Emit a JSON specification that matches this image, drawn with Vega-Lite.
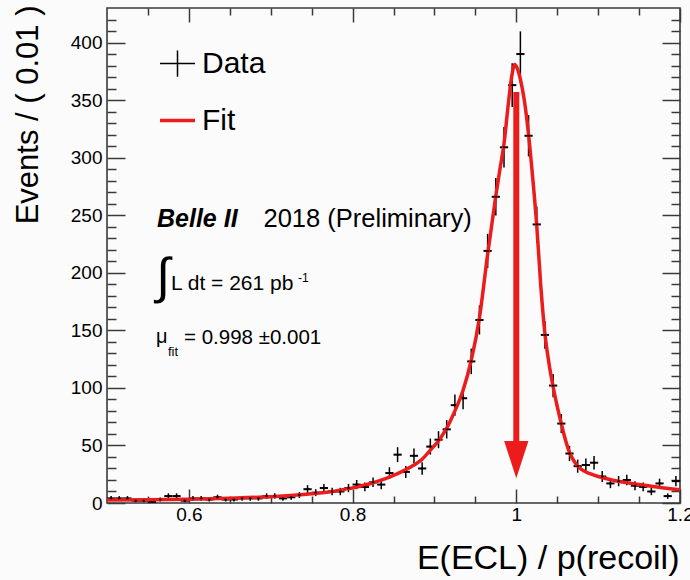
{
  "$schema": "https://vega.github.io/schema/vega-lite/v6.json",
  "width": 573,
  "height": 495,
  "autosize": {"type": "none"},
  "padding": {"left": 107, "top": 8, "right": 10, "bottom": 77},
  "background": "#fbfbfb",
  "datasets": {
    "points": [
      {"x": 0.505, "n": 4, "lo": 2, "hi": 6, "series": "Data"},
      {"x": 0.515, "n": 4, "lo": 2, "hi": 6, "series": "Data"},
      {"x": 0.525, "n": 4, "lo": 2, "hi": 6, "series": "Data"},
      {"x": 0.535, "n": 2, "lo": 0.6, "hi": 3.4, "series": "Data"},
      {"x": 0.545, "n": 2, "lo": 0.6, "hi": 3.4, "series": "Data"},
      {"x": 0.555, "n": 1, "lo": 0, "hi": 2, "series": "Data"},
      {"x": 0.565, "n": 3, "lo": 1.3, "hi": 4.7, "series": "Data"},
      {"x": 0.575, "n": 6, "lo": 3.6, "hi": 8.4, "series": "Data"},
      {"x": 0.585, "n": 6, "lo": 3.6, "hi": 8.4, "series": "Data"},
      {"x": 0.595, "n": 2, "lo": 0.6, "hi": 3.4, "series": "Data"},
      {"x": 0.605, "n": 4, "lo": 2, "hi": 6, "series": "Data"},
      {"x": 0.615, "n": 4, "lo": 2, "hi": 6, "series": "Data"},
      {"x": 0.625, "n": 3, "lo": 1.3, "hi": 4.7, "series": "Data"},
      {"x": 0.635, "n": 5, "lo": 2.8, "hi": 7.2, "series": "Data"},
      {"x": 0.645, "n": 3, "lo": 1.3, "hi": 4.7, "series": "Data"},
      {"x": 0.655, "n": 3, "lo": 1.3, "hi": 4.7, "series": "Data"},
      {"x": 0.665, "n": 4, "lo": 2, "hi": 6, "series": "Data"},
      {"x": 0.675, "n": 4, "lo": 2, "hi": 6, "series": "Data"},
      {"x": 0.685, "n": 4, "lo": 2, "hi": 6, "series": "Data"},
      {"x": 0.695, "n": 6, "lo": 3.6, "hi": 8.4, "series": "Data"},
      {"x": 0.705, "n": 6, "lo": 3.6, "hi": 8.4, "series": "Data"},
      {"x": 0.715, "n": 4, "lo": 2, "hi": 6, "series": "Data"},
      {"x": 0.725, "n": 5, "lo": 2.8, "hi": 7.2, "series": "Data"},
      {"x": 0.735, "n": 7, "lo": 4.4, "hi": 9.6, "series": "Data"},
      {"x": 0.745, "n": 12, "lo": 8.5, "hi": 15.5, "series": "Data"},
      {"x": 0.755, "n": 9, "lo": 6, "hi": 12, "series": "Data"},
      {"x": 0.765, "n": 13, "lo": 9.4, "hi": 16.6, "series": "Data"},
      {"x": 0.775, "n": 10, "lo": 6.8, "hi": 13.2, "series": "Data"},
      {"x": 0.785, "n": 10, "lo": 6.8, "hi": 13.2, "series": "Data"},
      {"x": 0.795, "n": 13, "lo": 9.4, "hi": 16.6, "series": "Data"},
      {"x": 0.805, "n": 16, "lo": 12, "hi": 20, "series": "Data"},
      {"x": 0.815, "n": 14, "lo": 10.3, "hi": 17.7, "series": "Data"},
      {"x": 0.825, "n": 18, "lo": 13.8, "hi": 22.2, "series": "Data"},
      {"x": 0.835, "n": 16, "lo": 12, "hi": 20, "series": "Data"},
      {"x": 0.845, "n": 26, "lo": 20.9, "hi": 31.1, "series": "Data"},
      {"x": 0.855, "n": 42, "lo": 35.5, "hi": 48.5, "series": "Data"},
      {"x": 0.865, "n": 27, "lo": 21.8, "hi": 32.2, "series": "Data"},
      {"x": 0.875, "n": 41, "lo": 34.6, "hi": 47.4, "series": "Data"},
      {"x": 0.885, "n": 30, "lo": 24.5, "hi": 35.5, "series": "Data"},
      {"x": 0.895, "n": 49, "lo": 42, "hi": 56, "series": "Data"},
      {"x": 0.905, "n": 55, "lo": 47.6, "hi": 62.4, "series": "Data"},
      {"x": 0.915, "n": 64, "lo": 56, "hi": 72, "series": "Data"},
      {"x": 0.925, "n": 85, "lo": 75.8, "hi": 94.2, "series": "Data"},
      {"x": 0.935, "n": 91, "lo": 81.5, "hi": 100.5, "series": "Data"},
      {"x": 0.945, "n": 123, "lo": 111.9, "hi": 134.1, "series": "Data"},
      {"x": 0.955, "n": 159, "lo": 146.4, "hi": 171.6, "series": "Data"},
      {"x": 0.965, "n": 219, "lo": 204.2, "hi": 233.8, "series": "Data"},
      {"x": 0.975, "n": 266, "lo": 249.7, "hi": 282.3, "series": "Data"},
      {"x": 0.985, "n": 309, "lo": 291.4, "hi": 326.6, "series": "Data"},
      {"x": 0.995, "n": 363, "lo": 344, "hi": 382, "series": "Data"},
      {"x": 1.005, "n": 390, "lo": 370.3, "hi": 409.7, "series": "Data"},
      {"x": 1.015, "n": 319, "lo": 301.1, "hi": 336.9, "series": "Data"},
      {"x": 1.025, "n": 242, "lo": 226.4, "hi": 257.6, "series": "Data"},
      {"x": 1.035, "n": 146, "lo": 133.9, "hi": 158.1, "series": "Data"},
      {"x": 1.045, "n": 102, "lo": 91.9, "hi": 112.1, "series": "Data"},
      {"x": 1.055, "n": 69, "lo": 60.7, "hi": 77.3, "series": "Data"},
      {"x": 1.065, "n": 43, "lo": 36.4, "hi": 49.6, "series": "Data"},
      {"x": 1.075, "n": 32, "lo": 26.3, "hi": 37.7, "series": "Data"},
      {"x": 1.085, "n": 33, "lo": 27.3, "hi": 38.7, "series": "Data"},
      {"x": 1.095, "n": 35, "lo": 29.1, "hi": 40.9, "series": "Data"},
      {"x": 1.105, "n": 23, "lo": 18.2, "hi": 27.8, "series": "Data"},
      {"x": 1.115, "n": 17, "lo": 12.9, "hi": 21.1, "series": "Data"},
      {"x": 1.125, "n": 19, "lo": 14.6, "hi": 23.4, "series": "Data"},
      {"x": 1.135, "n": 20, "lo": 15.5, "hi": 24.5, "series": "Data"},
      {"x": 1.145, "n": 15, "lo": 11.1, "hi": 18.9, "series": "Data"},
      {"x": 1.155, "n": 14, "lo": 10.3, "hi": 17.7, "series": "Data"},
      {"x": 1.165, "n": 10, "lo": 6.8, "hi": 13.2, "series": "Data"},
      {"x": 1.175, "n": 17, "lo": 12.9, "hi": 21.1, "series": "Data"},
      {"x": 1.185, "n": 6, "lo": 3.6, "hi": 8.4, "series": "Data"},
      {"x": 1.195, "n": 19, "lo": 14.6, "hi": 23.4, "series": "Data"}
    ],
    "fit": [
      {"x": 0.5, "f": 2.5, "series": "Fit"},
      {"x": 0.55, "f": 2.8, "series": "Fit"},
      {"x": 0.6, "f": 3.3, "series": "Fit"},
      {"x": 0.65, "f": 4.2, "series": "Fit"},
      {"x": 0.7, "f": 5.5, "series": "Fit"},
      {"x": 0.75, "f": 8, "series": "Fit"},
      {"x": 0.775, "f": 10, "series": "Fit"},
      {"x": 0.795, "f": 12.5, "series": "Fit"},
      {"x": 0.805, "f": 13.8, "series": "Fit"},
      {"x": 0.815, "f": 15.6, "series": "Fit"},
      {"x": 0.825, "f": 17.6, "series": "Fit"},
      {"x": 0.835, "f": 19.8, "series": "Fit"},
      {"x": 0.845, "f": 22.5, "series": "Fit"},
      {"x": 0.855, "f": 25.5, "series": "Fit"},
      {"x": 0.865, "f": 29, "series": "Fit"},
      {"x": 0.875, "f": 33, "series": "Fit"},
      {"x": 0.885, "f": 38, "series": "Fit"},
      {"x": 0.895, "f": 46, "series": "Fit"},
      {"x": 0.905, "f": 54, "series": "Fit"},
      {"x": 0.915, "f": 65, "series": "Fit"},
      {"x": 0.925, "f": 80, "series": "Fit"},
      {"x": 0.935, "f": 98, "series": "Fit"},
      {"x": 0.945, "f": 124, "series": "Fit"},
      {"x": 0.955, "f": 161, "series": "Fit"},
      {"x": 0.965, "f": 216, "series": "Fit"},
      {"x": 0.975, "f": 267, "series": "Fit"},
      {"x": 0.98, "f": 290, "series": "Fit"},
      {"x": 0.985, "f": 312, "series": "Fit"},
      {"x": 0.99, "f": 345, "series": "Fit"},
      {"x": 0.995, "f": 373, "series": "Fit"},
      {"x": 0.998, "f": 381, "series": "Fit"},
      {"x": 1.001, "f": 378, "series": "Fit"},
      {"x": 1.005, "f": 368, "series": "Fit"},
      {"x": 1.01, "f": 349, "series": "Fit"},
      {"x": 1.015, "f": 320, "series": "Fit"},
      {"x": 1.02, "f": 283, "series": "Fit"},
      {"x": 1.025, "f": 241, "series": "Fit"},
      {"x": 1.03, "f": 188, "series": "Fit"},
      {"x": 1.035, "f": 147, "series": "Fit"},
      {"x": 1.04, "f": 121, "series": "Fit"},
      {"x": 1.045, "f": 101, "series": "Fit"},
      {"x": 1.05, "f": 84, "series": "Fit"},
      {"x": 1.055, "f": 69, "series": "Fit"},
      {"x": 1.06, "f": 55, "series": "Fit"},
      {"x": 1.065, "f": 44, "series": "Fit"},
      {"x": 1.07, "f": 37, "series": "Fit"},
      {"x": 1.075, "f": 32, "series": "Fit"},
      {"x": 1.08, "f": 29, "series": "Fit"},
      {"x": 1.09, "f": 25.5, "series": "Fit"},
      {"x": 1.1, "f": 23, "series": "Fit"},
      {"x": 1.12, "f": 19.5, "series": "Fit"},
      {"x": 1.15, "f": 16, "series": "Fit"},
      {"x": 1.18, "f": 13, "series": "Fit"},
      {"x": 1.2, "f": 11.5, "series": "Fit"}
    ]
  },
  "config": {
    "view": {"stroke": "#3a3a3a", "strokeWidth": 1.6},
    "axis": {
      "domain": false, "grid": false, "tickColor": "#3a3a3a", "tickWidth": 1.5,
      "labelFont": "Liberation Sans", "labelFontSize": 19, "labelColor": "#000000",
      "titleFont": "Liberation Sans", "titleColor": "#000000", "titleFontWeight": "normal",
      "labelFlush": false, "labelOverlap": false, "labelBound": false
    },
    "text": {"font": "Liberation Sans", "color": "#000000"}
  },
  "resolve": {"axis": {"x": "independent", "y": "independent"}},
  "layer": [
    {
      "data": {"name": "points"},
      "mark": {"type": "rule", "color": "#000000", "strokeWidth": 1.5},
      "encoding": {
        "x": {"field": "x", "type": "quantitative", "scale": {"domain": [0.5, 1.2], "nice": false, "zero": false},
          "axis": {"orient": "bottom", "values": [0.6, 0.8, 1.0, 1.2], "format": "~g", "tickSize": -14, "labelPadding": 16,
            "title": "E(ECL) / p(recoil)", "titleFontSize": 34, "titleX": 572, "titleY": 65, "titleAlign": "right", "titleBaseline": "alphabetic", "titleAnchor": "end"}},
        "y": {"field": "lo", "type": "quantitative", "scale": {"domain": [0, 430], "nice": false, "zero": false},
          "axis": {"orient": "left", "values": [0, 50, 100, 150, 200, 250, 300, 350, 400], "tickSize": -18, "labelPadding": 23,
            "title": "Events / ( 0.01 )", "titleFontSize": 31, "titleAngle": 270, "titleX": -70, "titleY": -3, "titleAlign": "right", "titleBaseline": "alphabetic", "titleAnchor": "end"}},
        "y2": {"field": "hi"}
      }
    },
    {
      "data": {"name": "points"},
      "mark": {"type": "tick", "orient": "horizontal", "size": 8.2, "thickness": 2, "opacity": 1, "color": "#000000"},
      "encoding": {
        "x": {"field": "x", "type": "quantitative",
          "axis": {"orient": "bottom", "values": [0.55, 0.65, 0.7, 0.75, 0.85, 0.9, 0.95, 1.05, 1.1, 1.15], "tickSize": -7, "labels": false, "title": null}},
        "y": {"field": "n", "type": "quantitative",
          "axis": {"orient": "left", "values": [10, 20, 30, 40, 60, 70, 80, 90, 110, 120, 130, 140, 160, 170, 180, 190, 210, 220, 230, 240, 260, 270, 280, 290, 310, 320, 330, 340, 360, 370, 380, 390, 410, 420], "tickSize": -9, "labels": false, "title": null}}
      }
    },
    {
      "data": {"name": "fit"},
      "mark": {"type": "line", "strokeWidth": 3.5, "interpolate": "monotone", "color": "#ec1c1c"},
      "encoding": {
        "x": {"field": "x", "type": "quantitative",
          "axis": {"orient": "top", "values": [0.6, 0.8, 1.0, 1.2], "tickSize": -14, "labels": false, "title": null}},
        "y": {"field": "f", "type": "quantitative",
          "axis": {"orient": "right", "values": [0, 50, 100, 150, 200, 250, 300, 350, 400], "tickSize": -18, "labels": false, "title": null}}
      }
    },
    {
      "data": {"name": "points"},
      "mark": {"type": "point", "filled": false, "size": 6, "opacity": 1},
      "encoding": {
        "x": {"field": "x", "type": "quantitative",
          "axis": {"orient": "top", "values": [0.55, 0.65, 0.7, 0.75, 0.85, 0.9, 0.95, 1.05, 1.1, 1.15], "tickSize": -7, "labels": false, "title": null}},
        "y": {"field": "n", "type": "quantitative",
          "axis": {"orient": "right", "values": [10, 20, 30, 40, 60, 70, 80, 90, 110, 120, 130, 140, 160, 170, 180, 190, 210, 220, 230, 240, 260, 270, 280, 290, 310, 320, 330, 340, 360, 370, 380, 390, 410, 420], "tickSize": -9, "labels": false, "title": null}},
        "color": {"field": "series", "type": "nominal",
          "scale": {"domain": ["Data", "Fit"], "range": ["#000000", "#ec1c1c"]},
          "legend": {"orient": "none", "legendX": 51, "legendY": 37, "title": null, "labelFontSize": 30, "labelFont": "Liberation Sans", "labelColor": "#000000",
            "symbolSize": 1225, "labelOffset": 5, "rowPadding": 21, "padding": 0}},
        "shape": {"field": "series", "type": "nominal",
          "scale": {"domain": ["Data", "Fit"], "range": ["M-1,0L1,0M0,-0.75L0,0.75", "stroke"]},
          "legend": {"orient": "none", "legendX": 51, "legendY": 37, "title": null, "labelFontSize": 30, "labelFont": "Liberation Sans", "labelColor": "#000000",
            "symbolSize": 1225, "labelOffset": 5, "rowPadding": 21, "padding": 0}},
        "strokeWidth": {"field": "series", "type": "nominal",
          "scale": {"domain": ["Data", "Fit"], "range": [1.5, 3.5]},
          "legend": {"orient": "none", "legendX": 51, "legendY": 37, "title": null, "labelFontSize": 30, "labelFont": "Liberation Sans", "labelColor": "#000000",
            "symbolSize": 1225, "labelOffset": 5, "rowPadding": 21, "padding": 0}}
      }
    },
    {
      "data": {"values": [{}]},
      "mark": {"type": "rule", "color": "#ec1c1c", "strokeWidth": 6},
      "encoding": {
        "x": {"datum": 1.0, "type": "quantitative", "axis": null},
        "y": {"datum": 357, "type": "quantitative", "axis": null},
        "y2": {"datum": 52}
      }
    },
    {
      "data": {"values": [{}]},
      "mark": {"type": "point", "shape": "M-0.65,-1L0.65,-1L0,1Z", "size": 1391, "filled": true, "color": "#ec1c1c", "opacity": 1},
      "encoding": {
        "x": {"datum": 1.0, "type": "quantitative", "axis": null},
        "y": {"datum": 37.6, "type": "quantitative", "axis": null}
      }
    },
    {
      "data": {"values": [{}]},
      "mark": {"type": "text", "text": "Belle II", "fontSize": 25, "fontWeight": "bold", "fontStyle": "italic", "align": "left", "baseline": "alphabetic"},
      "encoding": {"x": {"datum": 0.5611, "type": "quantitative", "axis": null}, "y": {"datum": 240, "type": "quantitative", "axis": null}}
    },
    {
      "data": {"values": [{}]},
      "mark": {"type": "text", "text": "2018 (Preliminary)", "fontSize": 25.5, "align": "left", "baseline": "alphabetic"},
      "encoding": {"x": {"datum": 0.6912, "type": "quantitative", "axis": null}, "y": {"datum": 240, "type": "quantitative", "axis": null}}
    },
    {
      "data": {"values": [{}]},
      "mark": {"type": "text", "text": "∫", "font": "Liberation Sans", "fontSize": 50, "align": "center", "baseline": "alphabetic"},
      "encoding": {"x": {"datum": 0.5684, "type": "quantitative", "axis": null}, "y": {"datum": 182, "type": "quantitative", "axis": null}}
    },
    {
      "data": {"values": [{}]},
      "mark": {"type": "text", "text": "L dt = 261 pb", "fontSize": 21, "align": "left", "baseline": "alphabetic"},
      "encoding": {"x": {"datum": 0.5782, "type": "quantitative", "axis": null}, "y": {"datum": 185, "type": "quantitative", "axis": null}}
    },
    {
      "data": {"values": [{}]},
      "mark": {"type": "text", "text": "-1", "fontSize": 12, "align": "left", "baseline": "alphabetic"},
      "encoding": {"x": {"datum": 0.7333, "type": "quantitative", "axis": null}, "y": {"datum": 192, "type": "quantitative", "axis": null}}
    },
    {
      "data": {"values": [{}]},
      "mark": {"type": "text", "text": "μ", "fontSize": 20, "align": "left", "baseline": "alphabetic"},
      "encoding": {"x": {"datum": 0.5599, "type": "quantitative", "axis": null}, "y": {"datum": 139, "type": "quantitative", "axis": null}}
    },
    {
      "data": {"values": [{}]},
      "mark": {"type": "text", "text": "fit", "fontSize": 13, "align": "left", "baseline": "alphabetic"},
      "encoding": {"x": {"datum": 0.5745, "type": "quantitative", "axis": null}, "y": {"datum": 127.7, "type": "quantitative", "axis": null}}
    },
    {
      "data": {"values": [{}]},
      "mark": {"type": "text", "text": "= 0.998 ±0.001", "fontSize": 20.5, "align": "left", "baseline": "alphabetic"},
      "encoding": {"x": {"datum": 0.5941, "type": "quantitative", "axis": null}, "y": {"datum": 138.1, "type": "quantitative", "axis": null}}
    }
  ]
}
